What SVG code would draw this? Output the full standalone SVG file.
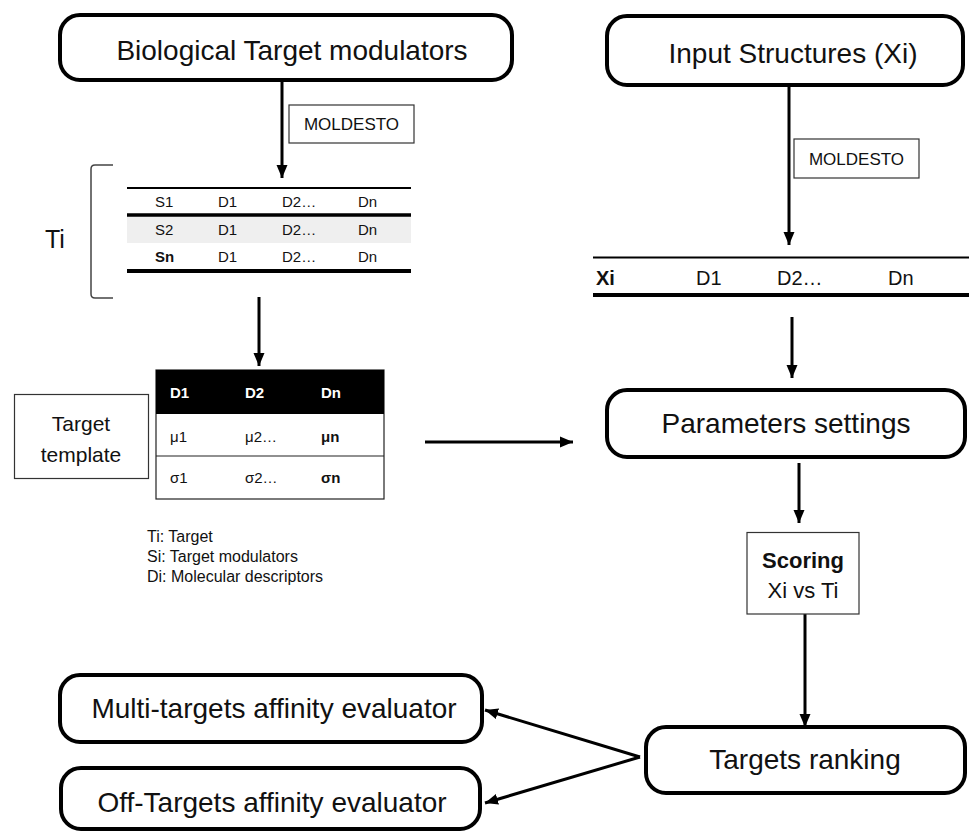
<svg xmlns="http://www.w3.org/2000/svg" width="969" height="832" viewBox="0 0 969 832">
  <style>
    text { font-family: "Liberation Sans", Arial, sans-serif; fill: #111; }
    .node { fill: #fff; stroke: #000; stroke-width: 4; }
    .thin { fill: #fff; stroke: #333; stroke-width: 1.2; }
    .big { font-size: 28px; }
    .mid { font-size: 20px; }
    .small { font-size: 15px; }
    .lbl { font-size: 17px; }
    .legend { font-size: 16px; }
    .b { font-weight: bold; }
    .conn { stroke: #000; stroke-width: 3; fill: none; marker-end: url(#arrow); }
    .rule { stroke: #000; }
  </style>
  <defs>
    <marker id="arrow" markerUnits="userSpaceOnUse" markerWidth="14" markerHeight="14" viewBox="0 0 14 14" refX="13" refY="7" orient="auto">
      <path d="M0,1.5 L13,7 L0,12.5 Z" fill="#000"/>
    </marker>
  </defs>

  <rect width="969" height="832" fill="#fff"/>

  <!-- connectors -->
  <g id="connectors">
    <line class="conn" x1="282" y1="80" x2="282" y2="178"/>
    <line class="conn" x1="259" y1="297" x2="259" y2="366"/>
    <line class="conn" x1="425" y1="442" x2="573" y2="442"/>
    <line class="conn" x1="789" y1="85" x2="789" y2="245"/>
    <line class="conn" x1="792" y1="317" x2="792" y2="378"/>
    <line class="conn" x1="799" y1="463" x2="799" y2="523"/>
    <line class="conn" x1="805" y1="614" x2="805" y2="727"/>
    <line class="conn" x1="640" y1="757" x2="485" y2="710"/>
    <line class="conn" x1="640" y1="757" x2="485" y2="803"/>
  </g>

  <!-- left column -->
  <g id="bio-modulators">
    <rect class="node" x="60" y="15" width="452" height="65" rx="20"/>
    <text class="big" x="292" y="60" text-anchor="middle">Biological Target modulators</text>
  </g>

  <g id="moldesto-left">
    <rect class="thin" x="289" y="105" width="125" height="38"/>
    <text class="lbl" x="351.5" y="130" text-anchor="middle">MOLDESTO</text>
  </g>

  <g id="ti-bracket">
    <path d="M113,165 L95,165 Q91,165 91,169 L91,294 Q91,298 95,298 L113,298" fill="none" stroke="#444" stroke-width="1.5"/>
    <text x="45" y="248" style="font-size:25px">Ti</text>
  </g>

  <g id="modulator-table">
    <rect x="127" y="216" width="284" height="27" fill="#efefef"/>
    <line class="rule" x1="127" y1="188" x2="411" y2="188" stroke-width="2"/>
    <line class="rule" x1="127" y1="215" x2="411" y2="215" stroke-width="3.5"/>
    <line class="rule" x1="127" y1="271" x2="411" y2="271" stroke-width="4"/>
    <g class="small">
      <text x="155" y="207">S1</text>
      <text x="218" y="207">D1</text>
      <text x="282" y="207">D2…</text>
      <text x="358" y="207">Dn</text>
      <text x="155" y="235">S2</text>
      <text x="218" y="235">D1</text>
      <text x="282" y="235">D2…</text>
      <text x="358" y="235">Dn</text>
      <text class="b" x="155" y="262">Sn</text>
      <text x="218" y="262">D1</text>
      <text x="282" y="262">D2…</text>
      <text x="358" y="262">Dn</text>
    </g>
  </g>

  <g id="target-template-label">
    <rect class="thin" x="14.5" y="394.5" width="134" height="84"/>
    <text x="81" y="431" text-anchor="middle" style="font-size:21px">Target</text>
    <text x="81" y="462" text-anchor="middle" style="font-size:21px">template</text>
  </g>

  <g id="template-table">
    <rect x="156" y="370" width="228" height="129" fill="#fff" stroke="#222" stroke-width="1.2"/>
    <rect x="156" y="370" width="228" height="44" fill="#000"/>
    <line x1="156" y1="456" x2="384" y2="456" stroke="#222" stroke-width="1.2"/>
    <g class="small">
      <text class="b" x="170" y="398" style="fill:#fff">D1</text>
      <text class="b" x="245" y="398" style="fill:#fff">D2</text>
      <text class="b" x="321" y="398" style="fill:#fff">Dn</text>
      <text x="170" y="442">μ1</text>
      <text x="245" y="442">μ2…</text>
      <text class="b" x="321" y="442">μn</text>
      <text x="170" y="483">σ1</text>
      <text x="245" y="483">σ2…</text>
      <text class="b" x="321" y="483">σn</text>
    </g>
  </g>

  <g id="legend" class="legend">
    <text x="147" y="542">Ti: Target</text>
    <text x="147" y="562">Si: Target modulators</text>
    <text x="147" y="582">Di: Molecular descriptors</text>
  </g>

  <!-- right column -->
  <g id="input-structures">
    <rect class="node" x="607" y="16" width="356" height="69" rx="20"/>
    <text class="big" x="793" y="63" text-anchor="middle">Input Structures (Xi)</text>
  </g>

  <g id="moldesto-right">
    <rect class="thin" x="794" y="139" width="125" height="39"/>
    <text class="lbl" x="856.5" y="165" text-anchor="middle">MOLDESTO</text>
  </g>

  <g id="input-table">
    <line class="rule" x1="593" y1="257.5" x2="969" y2="257.5" stroke-width="2"/>
    <line class="rule" x1="593" y1="295" x2="969" y2="295" stroke-width="4"/>
    <g class="mid">
      <text class="b" x="596" y="285">Xi</text>
      <text x="696" y="285">D1</text>
      <text x="777" y="285">D2…</text>
      <text x="888" y="285">Dn</text>
    </g>
  </g>

  <g id="parameters-settings">
    <rect class="node" x="607" y="390" width="358" height="67" rx="20"/>
    <text class="big" x="786" y="433" text-anchor="middle">Parameters settings</text>
  </g>

  <g id="scoring">
    <rect class="thin" x="747" y="532.5" width="112" height="81.5"/>
    <text class="b" x="803" y="568" text-anchor="middle" style="font-size:22px">Scoring</text>
    <text x="803" y="598" text-anchor="middle" style="font-size:22px">Xi vs Ti</text>
  </g>

  <g id="targets-ranking">
    <rect class="node" x="646" y="727" width="319" height="66" rx="20"/>
    <text class="big" x="805" y="769" text-anchor="middle">Targets ranking</text>
  </g>

  <!-- bottom-left outputs -->
  <g id="multi-targets">
    <rect class="node" x="60" y="675" width="422" height="67" rx="20"/>
    <text class="big" x="274" y="718" text-anchor="middle">Multi-targets affinity evaluator</text>
  </g>

  <g id="off-targets">
    <rect class="node" x="61" y="768" width="419" height="61" rx="20"/>
    <text class="big" x="272" y="812" text-anchor="middle">Off-Targets affinity evaluator</text>
  </g>
</svg>
